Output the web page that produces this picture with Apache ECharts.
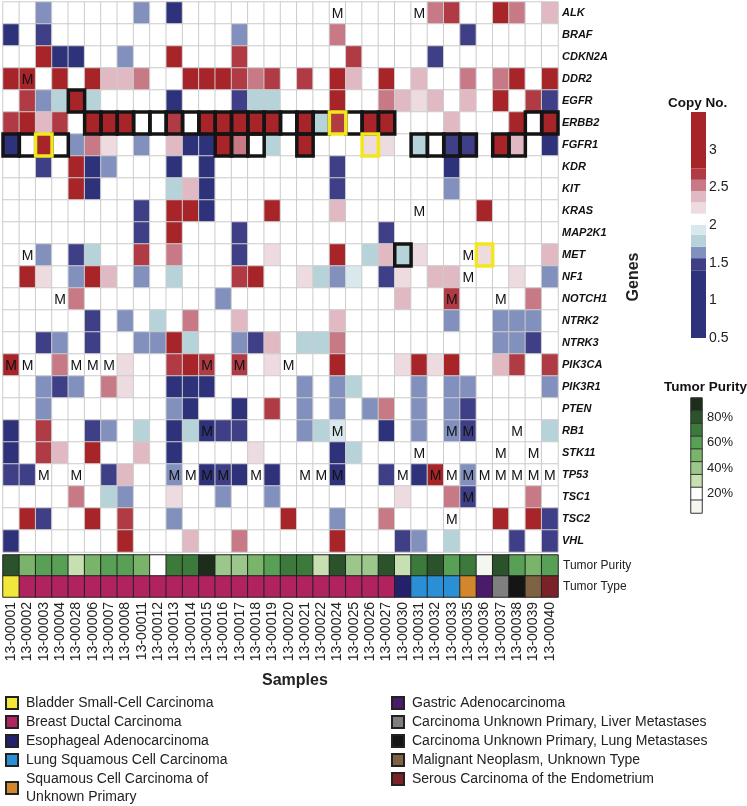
<!DOCTYPE html>
<html>
<head>
	<meta charset="utf-8">
	<title>Copy number heatmap</title>
	<script src="https://cdn.jsdelivr.net/npm/echarts@6/dist/echarts.min.js"></script>
	<style>
		body{margin:0;background:#fff}
		#main{width:747px;height:806px}
	</style>
</head>
<body>
<div id="main"></div>
<script>
	var samples = ['13-00001','13-00002','13-00003','13-00004','13-00028','13-00006','13-00007','13-00008','13-00011','13-00012',
		'13-00013','13-00014','13-00015','13-00016','13-00017','13-00018','13-00019','13-00020','13-00021','13-00022',
		'13-00024','13-00025','13-00026','13-00027','13-00030','13-00031','13-00032','13-00033','13-00035','13-00036',
		'13-00037','13-00038','13-00039','13-00040'];
	var genes = ['ALK','BRAF','CDKN2A','DDR2','EGFR','ERBB2','FGFR1','KDR','KIT','KRAS','MAP2K1','MET','NF1','NOTCH1',
		'NTRK2','NTRK3','PIK3CA','PIK3R1','PTEN','RB1','STK11','TP53','TSC1','TSC2','VHL'];

	// copy number per gene, one value per sample (same order as samples)
	var copyNumber = [
		[2,2,1.6,2,2,2,2,2,1.6,2, 1.0,2,2,2,2,2,2,2,2,2, 2,2,2,2,2,2,2.5,2.7,2,2, 3.2,2.5,2,2.4], // ALK
		[1.0,2,1.45,2,2,2,2,2,2,2, 2,2,2,2,1.6,2,2,2,2,2, 2.5,2,2,2,2,2,2,2,1.45,2, 2,2,2,2], // BRAF
		[2,2,3.2,1.0,1.0,2,2,1.6,2,2, 3.2,2,2,2,2.7,2,2,2,2,2, 2,2.7,2,2,2,2,1.45,2,2,2, 2,2,2,2], // CDKN2A
		[3.2,3.2,2,3.2,2,3.2,2.4,2.4,2.5,2, 2,3.2,3.2,3.2,2.7,2.5,2.7,2,2.7,2, 3.2,2.4,2,3.2,2,2.4,2,2,2.5,2, 2.5,3.2,2,3.2], // DDR2
		[2,2.7,1.6,1.8,3.2,1.8,2,2,2,2, 1.0,2,2,2,1.45,1.8,1.8,2,2,2, 3.2,2,2,2.5,2.4,2.2,2.4,2,2.4,2, 3.2,2,2.7,1.45], // EGFR
		[2.7,3.2,2.4,2.7,2,3.2,3.2,3.2,2,2, 2.7,2,3.2,3.2,3.2,3.2,3.2,2,3.2,1.8, 2.7,2,3.2,3.2,2,2,2,2.4,2,2, 2,3.2,2,3.2], // ERBB2
		[1.0,2,3.2,2,1.6,2.5,2.2,2,1.6,2, 2.4,1.0,1.0,3.2,2.5,2,1.8,2,3.2,2, 2,2,2.2,2.2,2,1.8,2,1.45,1.45,2, 3.2,2.4,2,1.0], // FGFR1
		[2,2,1.45,2,3.2,1.0,1.6,2,2,2, 1.0,2,1.0,2,2,2,2,2,2,2, 1.45,2,2,2,2,2,2,1.0,2,2, 2,2,2,2], // KDR
		[2,2,2,2,3.2,1.0,2,2,2,2, 1.8,2.4,1.0,2,2,2,2,2,2,2, 1.45,2,2,2,2,2,2,1.6,2,2, 2,2,2,2], // KIT
		[2,2,2,2,2,2,2,2,1.45,2, 3.2,3.2,1.0,2,2,2,3.2,2,2,2, 2.4,2,2,2,2,2,2,2,2,3.2, 2,2,2,2], // KRAS
		[2,2,2,2,2,2,2,2,1.45,2, 3.2,2,2,2,1.45,2,2,2,2,2, 2,2,2,1.45,2,2,2,2,2,2, 2,2,2,2], // MAP2K1
		[2,2,1.6,2,1.45,1.8,2,2,2.7,2, 2.5,2,2,2,1.45,2,2.2,2,2,2, 3.2,2,1.8,2.4,1.8,2.2,2,2,2,2.2, 2,2,2,2.4], // MET
		[2,3.2,2.2,2,1.6,3.2,2.4,2,1.6,2, 1.8,2,2,2,2.7,3.2,2,2,2.2,1.8, 1.6,1.9,2,1.45,2.2,2,2.4,2.4,2,2, 2,2.2,2,1.6], // NF1
		[2,2,2,2,2.5,2,2,2,2,2, 2,2,2,1.6,2,2,2,2,2,2, 2,2,2,2,2.4,2,2,2.7,2,2, 2,2,2.5,2], // NOTCH1
		[2,2,2,2,2,1.45,2,1.6,2,1.8, 2,2.5,2,2,2.4,2,2,2,2,2, 2.4,2,2,2,2,2,2,1.6,2,2, 1.6,1.6,1.6,2], // NTRK2
		[2,2,1.45,1.6,2,1.45,2,2,1.6,1.6, 3.2,1.8,2,2,1.6,1.45,2.4,2,1.8,1.8, 2.5,2,2,2,2,2,2,2,2,2, 1.6,1.6,1.45,2], // NTRK3
		[3.2,2,2,2.5,2,2,2,2.2,2,2, 2.7,3.2,2.7,2,2.7,2,2.2,2,2,2, 3.2,2,2,2,2.2,3.2,2.2,3.2,2,2, 2.4,2.7,2,2.7], // PIK3CA
		[2,2,1.6,1.45,1.6,2,2.5,2.2,2,2, 1.0,1.0,1.0,2,2,2,2,2,1.6,2, 1.6,1.8,2,2,2,1.6,2,1.6,1.6,2, 2,2,2,1.6], // PIK3R1
		[2,2,1.6,2,2,2,2,2,2,2, 1.6,1.0,2,2,1.0,2,2.7,2,1.6,2, 1.6,2,1.6,2.5,2,1.6,2,1.6,1.45,2, 2,2,2,2], // PTEN
		[1.0,2,2.7,2,2,1.45,1.6,2,1.8,2, 1.0,1.8,1.0,1.45,1.45,2,2,2,1.6,1.8, 1.9,2,2,1.0,2,1.6,2,1.6,1.45,2, 2,2,2,1.8], // RB1
		[1.0,2,2.7,2.4,2,3.2,2,2,2.4,2, 1.0,2,2,2,2,2.2,2,2,2,2, 1.0,1.8,2,2,2,2,2,2,2,2, 2,2,2,2], // STK11
		[1.45,1.45,2,2,2,2,1.45,2.4,2,2, 1.6,2,1.0,1.45,1.0,2,1.0,2,2,2, 1.0,2,2,1.45,2,1.0,3.2,2,1.6,2, 2,2,2,2], // TP53
		[2,2,2,2,2.5,2,1.8,1.6,2,2, 2.2,2,2,1.6,2,2,1.6,2,2,2, 2,2,2,2,2.2,2,2,2.5,1.45,2, 2,2,2.5,2], // TSC1
		[2,3.2,1.45,2,2,3.2,2,2.7,2,2, 1.6,2,2,2,2,2,2,3.2,2,2, 1.6,2,2,2.5,2,2,2,2,2,2, 3.2,2,3.2,1.45], // TSC2
		[1.0,2,2,2,2,2,2,3.2,2,2, 2,2.4,2,2,2.5,2,2,2,2,2, 3.2,2,2,2,1.45,1.6,2,1.8,2,2, 2,1.45,2,1.45]  // VHL
	];

	// mutated cells [gene, sample index]
	var mutations = [
		['ALK',20],['ALK',25],['DDR2',1],['KRAS',25],['MET',1],['MET',28],['NF1',28],
		['NOTCH1',3],['NOTCH1',27],['NOTCH1',30],
		['PIK3CA',0],['PIK3CA',1],['PIK3CA',4],['PIK3CA',5],['PIK3CA',6],['PIK3CA',12],['PIK3CA',14],['PIK3CA',17],
		['RB1',12],['RB1',20],['RB1',27],['RB1',28],['RB1',31],
		['STK11',25],['STK11',30],['STK11',32],
		['TP53',2],['TP53',4],['TP53',10],['TP53',11],['TP53',12],['TP53',13],['TP53',15],['TP53',18],['TP53',19],
		['TP53',20],['TP53',24],['TP53',26],['TP53',27],['TP53',28],['TP53',29],['TP53',30],['TP53',31],['TP53',32],['TP53',33],
		['TSC1',28],['TSC2',27]
	];
	var blackBoxes = [
		['EGFR',4],
		['ERBB2',5],['ERBB2',6],['ERBB2',7],['ERBB2',8],['ERBB2',9],['ERBB2',10],['ERBB2',11],['ERBB2',12],['ERBB2',13],
		['ERBB2',14],['ERBB2',15],['ERBB2',16],['ERBB2',17],['ERBB2',18],['ERBB2',19],['ERBB2',21],['ERBB2',22],['ERBB2',23],
		['ERBB2',32],['ERBB2',33],
		['FGFR1',0],['FGFR1',1],['FGFR1',3],['FGFR1',13],['FGFR1',14],['FGFR1',15],['FGFR1',18],
		['FGFR1',25],['FGFR1',26],['FGFR1',27],['FGFR1',28],['FGFR1',30],['FGFR1',31],
		['MET',24]
	];
	var yellowBoxes = [['ERBB2',20],['FGFR1',2],['FGFR1',22],['MET',29]];

	var purity = [80,50,60,60,30,50,60,60,50,20, 70,70,90,40,40,50,60,70,70,30, 80,40,40,80,30,70,80,60,70,10, 80,60,50,60];
	var tumorTypes = ['Bladder Small-Cell Carcinoma','Breast Ductal Carcinoma','Esophageal Adenocarcinoma',
		'Lung Squamous Cell Carcinoma','Squamous Cell Carcinoma of Unknown Primary','Gastric Adenocarcinoma',
		'Carcinoma Unknown Primary, Liver Metastases','Carcinoma Unknown Primary, Lung Metastases',
		'Malignant Neoplasm, Unknown Type','Serous Carcinoma of the Endometrium'];
	var sampleType = [0,1,1,1,1,1,1,1,1,1, 1,1,1,1,1,1,1,1,1,1, 1,1,1,1,2,3,3,3,4,5, 6,7,8,9];
	var typeColors = ['#f2e83a','#b0235e','#23216b','#2a8fd5','#d3862b','#4a1a6b','#7f7f7f','#151515','#7e6242','#7b2128'];

	// legend scales
	var copyBreaks = [0.5,1.4,1.56,1.71,1.87,2.0,2.15,2.3,2.45,2.6,2.75,3.5];
	var copyColors = ['#2e327a','#3f3f88','#8290be','#b7d3da','#d8e8ed','#ffffff','#eddbdf','#e0b9c3','#c77a85','#b03b45','#a72429'];
	var copyTicks = [0.5,1,1.5,2,2.5,3];
	var purityLevels = [90,80,70,60,50,40,30,20,10];
	var purityColors = ['#1c2e1b','#2b532b','#3c7a3b','#58a055','#79b46a','#9cc78b','#c6e0b2','#ffffff','#f3f7ef'];
	var purityTicks = [80,60,40,20];

	var FONT = 'Liberation Sans, Arial, sans-serif';
	var myChart = echarts.init(document.getElementById('main'));

	var cellData = [];
	copyNumber.forEach(function (row, g) {
		row.forEach(function (v, s) { cellData.push([s, g, v]); });
	});
	function toIdx(list) {
		return list.map(function (d) { return [d[1], genes.indexOf(d[0])]; });
	}

	var copyPieces = [];
	for (var i = 0; i < copyColors.length; i++) {
		copyPieces.push({gte: copyBreaks[i], lt: copyBreaks[i + 1], color: copyColors[i]});
	}
	copyPieces[0].gte = -10; copyPieces[copyPieces.length - 1].lt = 10;
	var purityPieces = purityLevels.map(function (p, i) {
		return {gte: p - 5, lt: p + 5, color: purityColors[i]};
	});

	function boxRender(color) {
		return function (params, api) {
			var c = api.coord([api.value(0), api.value(1)]);
			var s = api.size([1, 1]);
			return {type: 'rect',
				shape: {x: c[0] - s[0] / 2, y: c[1] - s[1] / 2, width: s[0], height: s[1]},
				style: {fill: 'none', stroke: color, lineWidth: 3.5}};
		};
	}

	var series = [
		{
			type: 'heatmap', xAxisIndex: 0, yAxisIndex: 0, data: cellData,
			itemStyle: {borderColor: '#cccccc', borderWidth: 1},
			emphasis: {disabled: true}
		},
		{
			type: 'heatmap', xAxisIndex: 1, yAxisIndex: 1,
			data: purity.map(function (p, s) { return [s, 0, p]; }),
			itemStyle: {borderColor: '#222', borderWidth: 1},
			emphasis: {disabled: true}
		},
		{
			type: 'heatmap', xAxisIndex: 3, yAxisIndex: 3,
			data: purityLevels.map(function (p, i) { return [0, i, p]; }),
			itemStyle: {borderColor: '#333', borderWidth: 1},
			emphasis: {disabled: true}
		},
		{
			type: 'custom', xAxisIndex: 2, yAxisIndex: 2,
			data: copyColors.map(function (c, i) { return [copyBreaks[i], copyBreaks[i + 1], i]; }),
			renderItem: function (params, api) {
				var top = api.coord([0, api.value(1)]);
				var bot = api.coord([1, api.value(0)]);
				return {type: 'rect', shape: {x: top[0], y: top[1], width: bot[0] - top[0], height: bot[1] - top[1]},
					style: {fill: copyColors[api.value(2)]}};
			}
		},
		{type: 'custom', xAxisIndex: 0, yAxisIndex: 0, data: toIdx(blackBoxes), renderItem: boxRender('#141414'), z: 3},
		{type: 'custom', xAxisIndex: 0, yAxisIndex: 0, data: toIdx(yellowBoxes), renderItem: boxRender('#f2e61f'), z: 4},
		{
			type: 'custom', xAxisIndex: 0, yAxisIndex: 0, data: toIdx(mutations), z: 5,
			renderItem: function (params, api) {
				var c = api.coord([api.value(0), api.value(1)]);
				return {type: 'text', style: {text: 'M', x: c[0], y: c[1] + 1, align: 'center', verticalAlign: 'middle',
					fontSize: 14, fontFamily: FONT, fill: '#111'}};
			}
		}
	];
	tumorTypes.forEach(function (t, ti) {
		var d = [];
		sampleType.forEach(function (st, s) { if (st === ti) d.push([s, 1, 1]); });
		series.push({
			type: 'heatmap', name: t, xAxisIndex: 1, yAxisIndex: 1, data: d,
			itemStyle: {color: typeColors[ti], borderColor: '#222', borderWidth: 1},
			emphasis: {disabled: true}
		});
	});

	var legendBase = {
		orient: 'vertical', top: 694, height: 130, padding: 0, icon: 'rect', itemWidth: 12, itemHeight: 12, itemGap: 1,
		selectedMode: false,
		textStyle: {fontSize: 14, color: '#222', lineHeight: 18, fontFamily: FONT, padding: [0, 0, 0, 3]},
		formatter: function (name) {
			return name === 'Squamous Cell Carcinoma of Unknown Primary' ? 'Squamous Cell Carcinoma of\nUnknown Primary' : name;
		}
	};

	var option = {
		animation: false,
		textStyle: {fontFamily: FONT},
		title: [
			{text: 'Copy No.', left: 663, top: 91, textStyle: {fontSize: 13.5, fontWeight: 'bold', color: '#111'}},
			{text: 'Tumor Purity', left: 659, top: 375, textStyle: {fontSize: 13.5, fontWeight: 'bold', color: '#111'}},
			{text: 'Samples', left: 257, top: 668, textStyle: {fontSize: 16, fontWeight: 'bold', color: '#222'}}
		],
		legend: [
			Object.assign({}, legendBase, {left: 5, data: tumorTypes.slice(0, 5)}),
			Object.assign({}, legendBase, {left: 391, data: tumorTypes.slice(5)})
		],
		grid: [
			{left: 3, top: 2, width: 555, height: 550},
			{left: 3, top: 555, width: 555, height: 42},
			{left: 691, top: 112, width: 15, height: 226},
			{left: 691, top: 398, width: 11, height: 115}
		],
		xAxis: [
			{type: 'category', gridIndex: 0, data: samples, show: false},
			{type: 'category', gridIndex: 1, data: samples, axisLine: {show: false}, axisTick: {show: false},
				axisLabel: {rotate: 90, fontSize: 14, color: '#222', margin: 5, interval: 0}},
			{type: 'value', gridIndex: 2, min: 0, max: 1, show: false},
			{type: 'category', gridIndex: 3, data: [''], show: false}
		],
		yAxis: [
			{type: 'category', gridIndex: 0, data: genes, inverse: true, position: 'right',
				axisLine: {show: false}, axisTick: {show: false},
				axisLabel: {fontSize: 11, fontWeight: 'bold', fontStyle: 'italic', color: '#111', margin: 4, interval: 0},
				name: 'Genes', nameLocation: 'middle', nameRotate: 90, nameGap: 68,
				nameTextStyle: {fontSize: 16, fontWeight: 'bold', color: '#222'}},
			{type: 'category', gridIndex: 1, data: ['Tumor Purity', 'Tumor Type'], inverse: true, position: 'right',
				axisLine: {show: false}, axisTick: {show: false},
				axisLabel: {fontSize: 12, color: '#222', margin: 5}},
			{type: 'value', gridIndex: 2, min: 0.5, max: 3.5, interval: 0.5, position: 'right',
				axisLine: {show: false}, axisTick: {show: false}, splitLine: {show: false},
				axisLabel: {fontSize: 14, color: '#222', margin: 3,
					formatter: function (v) { return copyTicks.indexOf(v) >= 0 ? String(v) : ''; }}},
			{type: 'category', gridIndex: 3, data: purityLevels.map(function (p) { return p + '%'; }), inverse: true,
				position: 'right', axisLine: {show: false}, axisTick: {show: false},
				axisLabel: {fontSize: 13, color: '#222', margin: 5, interval: 0,
					formatter: function (v) { return purityTicks.indexOf(parseInt(v)) >= 0 ? v : ''; }}}
		],
		visualMap: [
			{type: 'piecewise', show: false, seriesIndex: 0, dimension: 2, pieces: copyPieces},
			{type: 'piecewise', show: false, seriesIndex: [1, 2], dimension: 2, pieces: purityPieces}
		],
		series: series
	};
	myChart.setOption(option);
</script>
</body>
</html>
